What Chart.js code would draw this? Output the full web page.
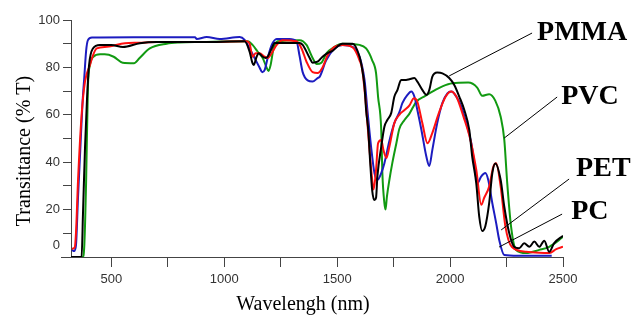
<!DOCTYPE html>
<html>
<head>
<meta charset="utf-8">
<script src="https://cdn.jsdelivr.net/npm/chart.js@4"></script>
<style>
  html, body { margin: 0; padding: 0; background: #fff; }
  #wrap { width: 643px; height: 320px; }
</style>
</head>
<body>
<div id="wrap"><canvas id="transChart"></canvas></div>
<script>
// tick values
const xTickValues = [500, 750, 1000, 1250, 1500, 1750, 2000, 2250, 2500];
const yTickValues = [0, 10, 20, 30, 40, 50, 60, 70, 80, 90, 100];

// PMMA (black)
const pmmaNm = [321, 368, 374, 383, 392, 401, 418, 449, 500, 551, 626, 700, 900, 1090, 1112, 1124, 1130, 1143, 1152, 1170,
  1183, 1192, 1210, 1223, 1333, 1347, 1378, 1391, 1413, 1435, 1457, 1479, 1523, 1568, 1599, 1611, 1621, 1628, 1638, 1646,
  1655, 1665, 1672, 1678, 1695, 1709, 1722, 1739, 1753, 1767, 1783, 1805, 1820, 1842, 1855, 1877, 1895, 1908, 1921, 1943,
  1966, 1996, 2019, 2041, 2063, 2085, 2098, 2116, 2129, 2142, 2156, 2173, 2187, 2200, 2224, 2240, 2262, 2284, 2306, 2328,
  2351, 2373, 2395, 2417, 2439, 2461, 2500];
const pmmaT = [0, 0, 18, 46, 67, 81, 88, 89.5, 89.5, 88.6, 90.2, 90.7, 90.7, 91, 86.6, 82, 81, 84.5, 86, 84.5,
  84, 84.5, 88, 90.3, 90.3, 89.5, 84, 82, 82.4, 84.5, 86, 87, 90, 90, 84.5, 79, 72, 62, 53, 40,
  28, 24, 25, 34, 46.5, 55, 57.8, 60.7, 67.6, 70.5, 74.7, 74.7, 75, 75.5, 74, 70.5, 68.4, 70.5, 76, 77.8,
  77.5, 75.5, 72.5, 67.6, 62, 53.6, 42.3, 31, 17, 11, 13, 22.7, 35.4, 39.5, 32.5, 21.2, 10, 4.3, 3.7, 5.8,
  4.3, 6.5, 4.3, 6.9, 2.2, 5.9, 9];

// PET (red)
const petNm = [325, 337, 343, 352, 368, 383, 405, 418, 435, 480, 560, 620, 700, 900, 1098, 1112, 1125, 1139, 1156, 1179,
  1192, 1210, 1232, 1258, 1320, 1342, 1364, 1391, 1413, 1435, 1457, 1485, 1525, 1568, 1599, 1611, 1628, 1642, 1655, 1661,
  1672, 1681, 1695, 1705, 1718, 1731, 1753, 1775, 1798, 1820, 1840, 1855, 1877, 1900, 1921, 1950, 1980, 2004, 2028, 2060,
  2090, 2116, 2138, 2151, 2173, 2191, 2204, 2224, 2245, 2273, 2337, 2395, 2440, 2470, 2500];
const petT = [3.5, 4, 10, 32, 60, 74, 81, 85, 88, 88.7, 90.2, 90.4, 90.7, 90.7, 91, 90, 84.5, 86, 86, 84.5,
  84, 86, 89.5, 91.5, 91, 88, 82.4, 78, 77.6, 80, 85, 88.5, 89.5, 88.5, 83, 79, 63.4, 46.5, 32.5, 28.5,
  36.7, 48, 49.4, 45, 41.8, 46.5, 56.5, 60, 62, 64, 67, 65.5, 56.5, 48, 52.3, 60.7, 67.6, 69.8, 67.6, 59,
  49.4, 36.7, 22, 25, 29.7, 38, 39.6, 29.7, 12.8, 4.3, 2.2, 1.8, 1.7, 3.3, 4.3];

// PC (blue)
const pcNm = [325, 335, 343, 352, 362, 372, 380, 388, 396, 414, 600, 870, 878, 922, 980, 1068, 1090, 1112, 1134, 1156,
  1168, 1179, 1192, 1210, 1232, 1289, 1320, 1333, 1347, 1369, 1391, 1413, 1422, 1451, 1488, 1523, 1568, 1599, 1621, 1635,
  1650, 1665, 1678, 1695, 1709, 1731, 1753, 1775, 1789, 1811, 1828, 1842, 1855, 1873, 1895, 1908, 1921, 1943, 1966, 1988,
  2006, 2028, 2050, 2072, 2094, 2107, 2120, 2138, 2156, 2169, 2187, 2204, 2218, 2240, 2300, 2400, 2450];
const pcT = [3, 2.5, 5, 25, 45, 65, 76, 87, 91.5, 92.6, 92.7, 92.7, 92, 92.8, 92, 92.8, 91.6, 88, 84, 80,
  78, 79, 84, 89.5, 92, 92, 91, 85, 78, 74.5, 74, 75.5, 76, 83, 88, 89.5, 88.7, 84.5, 74.7, 60.7,
  46.5, 35.4, 32.5, 35.4, 39.6, 49, 56.5, 61, 65, 68.4, 69.8, 67.6, 62, 53.6, 42.3, 38.4, 45, 56.5, 65, 69,
  69.8, 67.6, 63.4, 56.5, 48, 39.6, 31, 34, 35.4, 32.5, 22.7, 14.3, 7, 0.8, 0.5, 0.5, 0.5];

// PVC (green)
const pvcNm = [321, 373, 380, 388, 396, 405, 420, 450, 470, 510, 550, 600, 625, 670, 745, 800, 900, 1103, 1125, 1148,
  1170, 1187, 1196, 1205, 1218, 1236, 1333, 1364, 1391, 1409, 1430, 1453, 1488, 1523, 1599, 1628, 1655, 1672, 1681, 1695,
  1700, 1709, 1714, 1720, 1731, 1744, 1762, 1775, 1798, 1820, 1850, 1890, 1935, 1966, 2010, 2080, 2120, 2142, 2173, 2200,
  2224, 2240, 2253, 2270, 2292, 2337, 2395, 2439, 2483, 2500];
const pvcT = [0, 0, 5, 32, 72, 81, 84.5, 85.5, 85.5, 84.5, 82, 81.8, 84, 88, 90, 90.5, 90.7, 91, 89.5, 86.6,
  84, 80, 78.5, 81, 88, 91, 91.5, 89.5, 84, 81.4, 82, 86, 88.7, 90, 89.5, 88, 83, 77.6, 67.6, 53.6,
  35.4, 22.7, 20, 25.4, 32.5, 39.6, 48, 54, 57.8, 60.5, 65.5, 68, 70.5, 72, 73.3, 73.6, 71.5, 68, 68.7, 66,
  59.2, 49.4, 31.2, 12.8, 3, 1.7, 3, 4.3, 7.2, 8.6];

// labels with leader lines, in data units (nm, %T)
const callouts = [
  { text: "PMMA", at: [2385, 94.5], from: [2363, 94.5], to: [1996, 76.4] },
  { text: "PVC",  at: [2492, 67.5], from: [2474, 67.5], to: [2240, 50.2] },
  { text: "PET",  at: [2558, 37.1], from: [2527, 32.9], to: [2226, 11.4] },
  { text: "PC",   at: [2536, 19],   from: [2496, 18.1], to: [2217, 4.2] }
];

const axisColor = "#444";
const tickColor = "#333";

function pts(xs, ys) {
  return xs.map((x, i) => ({ x: x, y: ys[i] }));
}

function series(label, xs, ys, color) {
  return {
    label: label,
    data: pts(xs, ys),
    borderColor: color,
    backgroundColor: color,
    borderWidth: 2,
    pointRadius: 0,
    fill: false,
    cubicInterpolationMode: "monotone"
  };
}

const overlay = {
  id: "overlay",
  afterDraw(chart) {
    const { ctx, scales: { x, y } } = chart;
    ctx.save();

    // x axis line runs a bit past the y axis
    ctx.strokeStyle = axisColor;
    ctx.lineWidth = 1;
    ctx.beginPath();
    ctx.moveTo(x.left - 10, y.bottom + 0.5);
    ctx.lineTo(x.left, y.bottom + 0.5);
    ctx.stroke();

    // the "0" label sits above the axis in the original
    ctx.fillStyle = tickColor;
    ctx.font = '13px "Liberation Sans"';
    ctx.textAlign = "right";
    ctx.textBaseline = "middle";
    ctx.fillText("0", x.left - 11, y.bottom - 12);

    // axis titles
    ctx.fillStyle = "#000";
    ctx.font = '20px "Liberation Serif"';
    ctx.textAlign = "center";
    ctx.fillText("Wavelengh (nm)", 303, 305);
    ctx.save();
    ctx.translate(25, 151);
    ctx.rotate(-Math.PI / 2);
    ctx.fillText("Transittance (% T)", 0, 0);
    ctx.restore();

    // callouts
    ctx.strokeStyle = "#000";
    ctx.lineWidth = 1;
    ctx.font = 'bold 28px "Liberation Serif"';
    ctx.textAlign = "left";
    callouts.forEach(c => {
      ctx.beginPath();
      ctx.moveTo(x.getPixelForValue(c.from[0]), y.getPixelForValue(c.from[1]));
      ctx.lineTo(x.getPixelForValue(c.to[0]), y.getPixelForValue(c.to[1]));
      ctx.stroke();
      ctx.fillText(c.text, x.getPixelForValue(c.at[0]), y.getPixelForValue(c.at[1]));
    });
    ctx.restore();
  }
};

const ctx = document.getElementById("transChart").getContext("2d");
const chart = new Chart(ctx, {
  type: "line",
  data: {
    datasets: [
      series("PMMA", pmmaNm, pmmaT, "#000000"),
      series("PET", petNm, petT, "#ff1010"),
      series("PC", pcNm, pcT, "#1c1cc0"),
      series("PVC", pvcNm, pvcT, "#119a11")
    ]
  },
  options: {
    responsive: true,
    maintainAspectRatio: false,
    animation: false,
    layout: { padding: { left: 0, right: 80, top: 20, bottom: 0 } },
    plugins: {
      legend: { display: false },
      tooltip: { enabled: false }
    },
    scales: {
      x: {
        type: "linear",
        min: 321,
        max: 2500,
        afterBuildTicks: s => { s.ticks = xTickValues.map(v => ({ value: v })); },
        afterFit: s => { s.height = 63; },
        border: { display: true, color: axisColor, width: 1 },
        grid: { drawOnChartArea: false, drawTicks: true, tickLength: 10, color: axisColor },
        ticks: {
          color: tickColor,
          font: { family: "Liberation Sans", size: 13 },
          padding: 5,
          maxRotation: 0,
          autoSkip: false,
          callback: v => (v % 500 === 0 ? String(v) : "")
        }
      },
      y: {
        min: 0,
        max: 100,
        afterBuildTicks: s => { s.ticks = yTickValues.map(v => ({ value: v })); },
        afterFit: s => { s.width = 71; },
        border: { display: true, color: axisColor, width: 1 },
        grid: { drawOnChartArea: false, drawTicks: true, tickLength: 8, color: axisColor },
        ticks: {
          color: tickColor,
          font: { family: "Liberation Sans", size: 13 },
          padding: 3,
          autoSkip: false,
          callback: v => (v !== 0 && v % 20 === 0 ? String(v) : "")
        }
      }
    }
  },
  plugins: [overlay]
});
</script>
</body>
</html>
